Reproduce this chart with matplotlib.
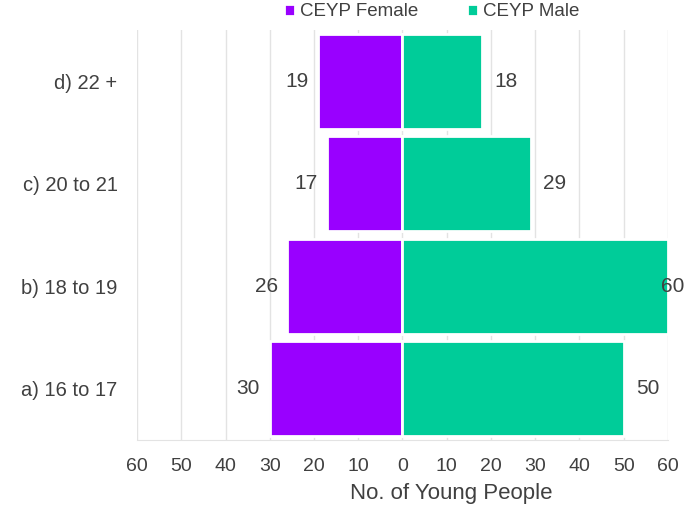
import matplotlib.pyplot as plt
import numpy as np

plt.rcParams["font.family"] = ["Liberation Sans", "DejaVu Sans"]

categories = ["a) 16 to 17", "b) 18 to 19", "c) 20 to 21", "d) 22 +"]
female = [30, 26, 17, 19]
male = [50, 60, 29, 18]
ticks = [-60, -50, -40, -30, -20, -10, 0, 10, 20, 30, 40, 50, 60]

PURPLE = "#9900FF"
TEAL = "#00CC99"
TEXT = "#404040"

fig = plt.figure(figsize=(6.84, 5.07), dpi=100)
ax = fig.add_axes([0.2003, 0.132, 0.7763, 0.809])

y = np.arange(len(categories))
ax.barh(y, -np.array(female), height=0.93, color=PURPLE, edgecolor="white",
        linewidth=2, label="CEYP Female", zorder=2)
ax.barh(y, male, height=0.93, color=TEAL, edgecolor="white",
        linewidth=2, label="CEYP Male", zorder=2)

for yi, f, m in zip(y, female, male):
    ax.annotate(str(f), (-f, yi), xytext=(-7, 0), textcoords="offset points",
                ha="right", va="center", fontsize=15, color=TEXT)
    if m >= 60:
        # label would run off the figure: keep it inside the right edge
        ax.annotate(str(m), (1.0, yi), xycoords=("figure fraction", "data"),
                    ha="right", va="center", fontsize=15, color=TEXT,
                    annotation_clip=False, zorder=3)
    else:
        ax.annotate(str(m), (m, yi), xytext=(9, 0), textcoords="offset points",
                    ha="left", va="center", fontsize=15, color=TEXT)

ax.set_xlim(-60, 60)
ax.set_ylim(-0.5, 3.5)
ax.set_xticks(ticks)
ax.set_xticklabels([str(abs(t)) for t in ticks])
ax.set_yticks(y)
ax.set_yticklabels(categories)
ax.tick_params(axis="x", length=0, labelsize=14, colors=TEXT, pad=13)
ax.tick_params(axis="y", length=0, labelsize=14.5, colors=TEXT, pad=14)
ax.grid(axis="x", color="#e3e3e3", linewidth=1, zorder=0)
for s in ["left", "right", "top"]:
    ax.spines[s].set_visible(False)
ax.spines["bottom"].set_color("#e3e3e3")

fig.text(451 / 684, 1 - 493 / 507, "No. of Young People", ha="center",
         va="center", fontsize=16, color=TEXT)

ax.legend(loc="center", bbox_to_anchor=(432 / 684, 1 - 12 / 507),
          bbox_transform=fig.transFigure, ncol=2, frameon=False,
          fontsize=13.5, labelcolor=TEXT, handlelength=0.55, handleheight=0.55,
          handletextpad=0.3, columnspacing=2.6, borderaxespad=0)

fig.savefig("out.png", dpi=100)
